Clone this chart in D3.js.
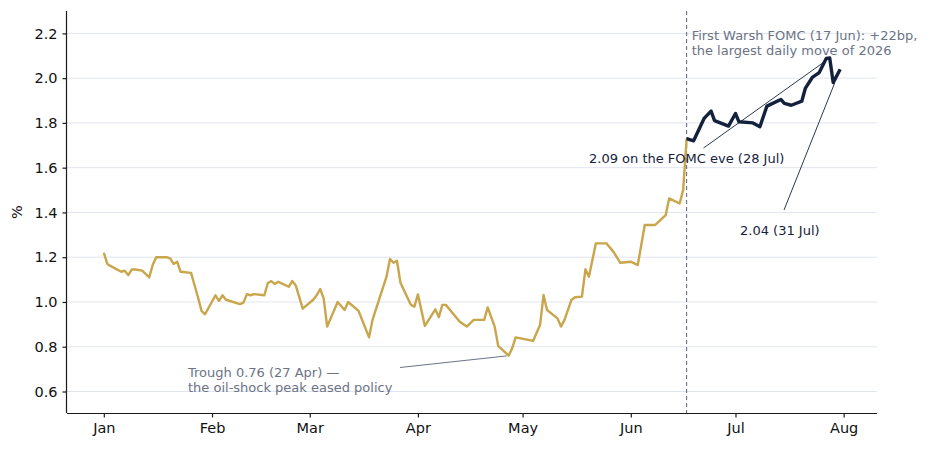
<!DOCTYPE html>
<html>
<head>
<meta charset="utf-8">
<script src="https://cdn.jsdelivr.net/npm/d3@7"></script>
<style>
  body { margin: 0; background: #fff; }
  svg { display: block; font-family: "DejaVu Sans", sans-serif; }
</style>
</head>
<body>
<svg id="chart" width="930" height="450"></svg>
<script>
// Gold series: 1 Jan to 17 Jun
const goldDates = [
  "2026-01-01","2026-01-02","2026-01-03","2026-01-06","2026-01-07","2026-01-08","2026-01-09","2026-01-10",
  "2026-01-12","2026-01-14","2026-01-15","2026-01-16","2026-01-19","2026-01-20","2026-01-21","2026-01-22",
  "2026-01-23","2026-01-26","2026-01-28","2026-01-29","2026-01-30","2026-02-02","2026-02-03","2026-02-04",
  "2026-02-05","2026-02-09","2026-02-10","2026-02-11","2026-02-12","2026-02-13","2026-02-16","2026-02-17",
  "2026-02-18","2026-02-19","2026-02-20","2026-02-23","2026-02-24","2026-02-25","2026-02-27","2026-03-02",
  "2026-03-03","2026-03-04","2026-03-05","2026-03-06","2026-03-09","2026-03-11","2026-03-12","2026-03-15",
  "2026-03-18","2026-03-19","2026-03-23","2026-03-24","2026-03-25","2026-03-26","2026-03-27","2026-03-30",
  "2026-03-31","2026-04-01","2026-04-03","2026-04-06","2026-04-07","2026-04-08","2026-04-09","2026-04-13",
  "2026-04-15","2026-04-17","2026-04-20","2026-04-21","2026-04-23","2026-04-24","2026-04-27","2026-04-28",
  "2026-04-29","2026-05-04","2026-05-06","2026-05-07","2026-05-08","2026-05-11","2026-05-12","2026-05-13",
  "2026-05-15","2026-05-16","2026-05-18","2026-05-19","2026-05-20","2026-05-22","2026-05-25","2026-05-27",
  "2026-05-29","2026-06-01","2026-06-03","2026-06-05","2026-06-08","2026-06-11","2026-06-12","2026-06-15",
  "2026-06-16","2026-06-17"
];
const goldValues = [
  1.22, 1.17, 1.16, 1.135, 1.14, 1.12, 1.145, 1.145,
  1.14, 1.11, 1.165, 1.20, 1.20, 1.195, 1.17, 1.18,
  1.135, 1.13, 1.02, 0.96, 0.945, 1.03, 1.005, 1.03,
  1.01, 0.99, 0.997, 1.035, 1.03, 1.035, 1.03, 1.085,
  1.093, 1.08, 1.09, 1.068, 1.094, 1.074, 0.97, 1.01,
  1.03, 1.058, 1.016, 0.89, 1.0, 0.964, 1.0, 0.96,
  0.842, 0.92, 1.113, 1.192, 1.175, 1.184, 1.086, 0.987,
  0.979, 1.034, 0.893, 0.967, 0.932, 0.987, 0.987, 0.912,
  0.89, 0.92, 0.92, 0.976, 0.89, 0.804, 0.76, 0.793,
  0.842, 0.826, 0.897, 1.031, 0.964, 0.927, 0.89, 0.92,
  1.009, 1.021, 1.024, 1.146, 1.113, 1.262, 1.262, 1.225,
  1.175, 1.18, 1.165, 1.344, 1.344, 1.388, 1.463, 1.44,
  1.50, 1.73
];

// Navy series: from the first Warsh FOMC (17 Jun) to 31 Jul
const navyDates = [
  "2026-06-17","2026-06-19","2026-06-22","2026-06-24","2026-06-25","2026-06-29","2026-07-01","2026-07-02",
  "2026-07-06","2026-07-08","2026-07-10","2026-07-14","2026-07-15","2026-07-17","2026-07-20","2026-07-21",
  "2026-07-23","2026-07-25","2026-07-27","2026-07-28","2026-07-29","2026-07-31"
];
const navyValues = [
  1.73, 1.72, 1.82, 1.853, 1.81, 1.786, 1.842, 1.805,
  1.80, 1.783, 1.875, 1.905, 1.887, 1.879, 1.897, 1.954,
  2.003, 2.025, 2.088, 2.09, 1.98, 2.04
];

const yTicks = [0.6, 0.8, 1.0, 1.2, 1.4, 1.6, 1.8, 2.0, 2.2];
const monthTicks = ["2026-01-01","2026-02-01","2026-03-01","2026-04-01","2026-05-01","2026-06-01","2026-07-01","2026-08-01"];
const fomcDate = "2026-06-17";

const parse = d3.utcParse("%Y-%m-%d");
const gold = goldDates.map((d, i) => ({date: parse(d), value: goldValues[i]}));
const navy = navyDates.map((d, i) => ({date: parse(d), value: navyValues[i]}));

const svg = d3.select("#chart");
const plot = {left: 67, right: 877, top: 11, bottom: 413};

// 5% padding either side of the data, like the original
const first = parse("2026-01-01"), last = parse("2026-07-31");
const pad = (last - first) * 0.05;
const x = d3.scaleUtc()
    .domain([new Date(+first - pad), new Date(+last + pad)])
    .range([plot.left, plot.right]);

const y = d3.scaleLinear()
    .domain([0.504, 2.30])
    .range([plot.bottom, plot.top]);

// gridlines
svg.append("g")
  .selectAll("line")
  .data(yTicks)
  .join("line")
    .attr("x1", plot.left)
    .attr("x2", plot.right)
    .attr("y1", d => y(d))
    .attr("y2", d => y(d))
    .attr("stroke", "#e1e5ef")
    .attr("stroke-width", 1);

// axes
const xAxis = svg.append("g")
    .attr("transform", `translate(0,${plot.bottom})`)
    .call(d3.axisBottom(x)
        .tickValues(monthTicks.map(parse))
        .tickFormat(d3.utcFormat("%b"))
        .tickSize(4.5)
        .tickPadding(5));
xAxis.select(".domain").attr("d", `M${plot.left},0.5H${plot.right}`);

const yAxis = svg.append("g")
    .attr("transform", `translate(${plot.left},0)`)
    .call(d3.axisLeft(y)
        .tickValues(yTicks)
        .tickFormat(d3.format(".1f"))
        .tickSize(4.5)
        .tickPadding(5));
yAxis.select(".domain").attr("d", `M-0.5,${plot.top}V${plot.bottom}`);

svg.selectAll(".tick text")
    .attr("font-family", "DejaVu Sans")
    .attr("font-size", 14.5)
    .attr("fill", "#111");
svg.selectAll(".domain, .tick line")
    .attr("stroke", "#1a1a1a")
    .attr("stroke-width", 1.2);

svg.append("text")
    .attr("transform", `translate(22,${(plot.top + plot.bottom) / 2}) rotate(-90)`)
    .attr("text-anchor", "middle")
    .attr("font-size", 14.5)
    .attr("fill", "#111")
    .text("%");

// FOMC marker
svg.append("line")
    .attr("x1", x(parse(fomcDate)))
    .attr("x2", x(parse(fomcDate)))
    .attr("y1", plot.top)
    .attr("y2", plot.bottom)
    .attr("stroke", "#5a6478")
    .attr("stroke-width", 1)
    .attr("stroke-dasharray", "4,3");

const line = d3.line()
    .x(d => x(d.date))
    .y(d => y(d.value));

svg.append("path")
    .datum(gold)
    .attr("fill", "none")
    .attr("stroke", "#c9a54b")
    .attr("stroke-width", 2.4)
    .attr("stroke-linejoin", "round")
    .attr("d", line);

svg.append("path")
    .datum(navy)
    .attr("fill", "none")
    .attr("stroke", "#14213d")
    .attr("stroke-width", 3.4)
    .attr("stroke-linejoin", "round")
    .attr("d", line);

// annotations
function connector(x0, y0, target, shrink, color) {
    const tx = x(parse(target[0])), ty = y(target[1]);
    const len = Math.hypot(tx - x0, ty - y0);
    const k = (len - shrink) / len;
    svg.append("line")
        .attr("x1", x0).attr("y1", y0)
        .attr("x2", x0 + (tx - x0) * k).attr("y2", y0 + (ty - y0) * k)
        .attr("stroke", color)
        .attr("stroke-width", 0.9);
}

function label(x0, y0, lines, color) {
    const t = svg.append("text")
        .attr("x", x0)
        .attr("y", y0)
        .attr("font-size", 13)
        .attr("fill", color);
    lines.forEach((s, i) => {
        t.append("tspan").attr("x", x0).attr("dy", i ? 14.6 : 0).text(s);
    });
}

connector(400, 367.5, ["2026-04-27", 0.76], 2, "#5a6478");
label(188, 377, ["Trough 0.76 (27 Apr) \u2014", "the oil-shock peak eased policy"], "#6b7385");

label(x(parse(fomcDate)) + 5, 40, ["First Warsh FOMC (17 Jun): +22bp,", "the largest daily move of 2026"], "#6b7385");

connector(703.5, 148, ["2026-07-28", 2.09], 7, "#14213d");
label(589, 163, ["2.09 on the FOMC eve (28 Jul)"], "#14213d");

connector(784, 210, ["2026-07-31", 2.04], 15, "#14213d");
label(740, 235, ["2.04 (31 Jul)"], "#14213d");
</script>
</body>
</html>
